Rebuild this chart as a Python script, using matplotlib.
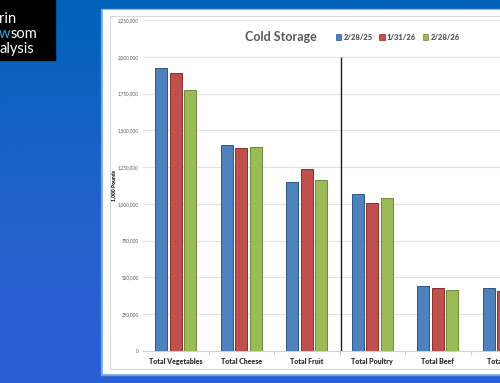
"""Cold storage comparison chart, recreated as a slide screenshot."""

import matplotlib
matplotlib.use("Agg")
import matplotlib.pyplot as plt
import matplotlib.patches as mpatches
import numpy as np
from matplotlib.colors import LinearSegmentedColormap
from matplotlib.ticker import FuncFormatter, MultipleLocator

categories = ["Total Vegetables", "Total Cheese", "Total Fruit",
              "Total Poultry", "Total Beef", "Total Pork"]
series_labels = ["2/28/25", "1/31/26", "2/28/26"]
feb25 = [1927000, 1397000, 1150000, 1064000, 442000, 426000]
jan26 = [1887000, 1377000, 1234000, 1005000, 430000, 410000]
feb26 = [1771000, 1386000, 1160000, 1037000, 414000, 400000]

COLORS = ["#4F81BD", "#C0504D", "#9BBB59"]
EDGES = ["#2F5487", "#8A2E2C", "#6C8A3A"]
FONT = ["Lato", "DejaVu Sans"]

fig = plt.figure(figsize=(5, 3.83), dpi=100)

# Slide background: blue gradient
bg = fig.add_axes([0, 0, 1, 1])
cmap = LinearSegmentedColormap.from_list("slide", ["#0062B8", "#1F62C8", "#2C5ED6"])
grad = np.linspace(0, 1, 256).reshape(-1, 1)
bg.imshow(grad, cmap=cmap, aspect="auto", extent=(0, 500, 383, 0))
bg.set_xlim(0, 500)
bg.set_ylim(383, 0)
bg.axis("off")

# logo box
logo_size = 10.5
bg.add_patch(mpatches.Rectangle((0, 0), 55, 60, color="black", zorder=2))
bg.text(-1, 19, "rin", color="white", fontsize=logo_size, family=FONT, va="center", zorder=3)
w_txt = bg.text(-1, 34, "w", color="#2BA8E0", fontsize=logo_size, family=FONT,
                va="center", zorder=3)
bg.annotate("som", xy=(1, 0.5), xycoords=w_txt, color="white", fontsize=logo_size,
            family=FONT, va="center", ha="left", zorder=3)
bg.text(-1, 49, "alysis", color="white", fontsize=logo_size, family=FONT, va="center", zorder=3)

# white chart panel
bg.add_patch(mpatches.Rectangle((101, 9), 410, 366, color="#6FA3E6", zorder=2))
bg.add_patch(mpatches.Rectangle((103, 10), 410, 363, color="white", zorder=2))
bg.add_patch(mpatches.Rectangle((109.5, 16), 410, 353, fill=False,
                                edgecolor="#D9D9D9", linewidth=0.8, zorder=2))

ax = fig.add_axes([143 / 500, 1 - 351 / 383, 393 / 500, 331 / 383])
ax.patch.set_alpha(0)

x = np.arange(len(categories))
width = 0.183
step = 0.222
for i, vals in enumerate([feb25, jan26, feb26]):
    ax.bar(x + (i - 1) * step, vals, width, color=COLORS[i], edgecolor=EDGES[i],
           linewidth=0.7, label=series_labels[i], zorder=3)

ax.set_xlim(-0.5, len(categories) - 0.5)
ax.set_ylim(0, 2250000)
ax.yaxis.set_major_locator(MultipleLocator(250000))
ax.yaxis.set_major_formatter(FuncFormatter(lambda v, p: f"{int(v):,}"))
ax.grid(axis="y", color="#E3E3E3", linewidth=0.8, zorder=0)
ax.set_axisbelow(True)

for side in ["top", "right", "left"]:
    ax.spines[side].set_visible(False)
ax.spines["bottom"].set_color("#D0D0D0")
ax.spines["bottom"].set_linewidth(0.8)

ax.set_xticks(x)
ax.set_xticklabels(categories, fontsize=5, fontweight="heavy", color="#333333", family=FONT)
ax.set_xticks(np.arange(len(categories)) + 0.5, minor=True)
ax.tick_params(axis="x", which="major", length=0, pad=5)
ax.tick_params(axis="x", which="minor", length=3, color="#D0D0D0", width=0.8)
ax.tick_params(axis="y", length=0, pad=3, labelsize=3.3, labelcolor="#595959")
for lbl in ax.get_yticklabels():
    lbl.set_family(FONT)

ax.set_ylabel("1,000 Pounds", fontsize=3.6, fontweight="heavy", color="#262626",
              family=FONT, labelpad=1)

# divider line between fruit and poultry
ax.vlines(2.53, 0, 2000000, color="#1A1A1A", linewidth=1.0, zorder=4)

fig.text(281 / 500, 1 - 37 / 383, "Cold Storage", fontsize=9, fontweight="bold",
         color="#595959", family=FONT, ha="center", va="center")

handles = [mpatches.Patch(facecolor=COLORS[i], edgecolor=EDGES[i], linewidth=0.5,
                          label=series_labels[i]) for i in range(3)]
leg = fig.legend(handles=handles, loc="center left", bbox_to_anchor=(332 / 500, 1 - 37 / 383),
                 ncol=3, frameon=False, handlelength=0.7, handleheight=0.7,
                 handletextpad=0.3, columnspacing=0.9, borderpad=0,
                 prop={"family": FONT, "size": 5.5, "weight": "heavy"})
for t in leg.get_texts():
    t.set_color("#595959")

fig.savefig("out.png", dpi=100, facecolor="white")
